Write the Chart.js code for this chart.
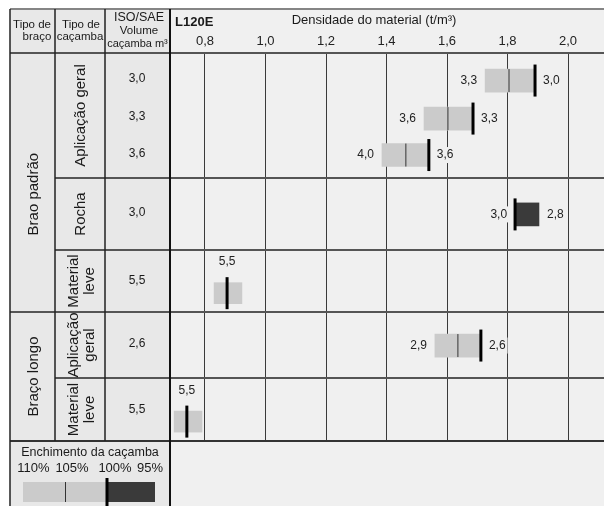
<!DOCTYPE html>
<html>
<head>
<meta charset="utf-8">
<script src="https://cdn.jsdelivr.net/npm/chart.js@4.4.0/dist/chart.umd.min.js"></script>
<style>
  html, body { margin: 0; padding: 0; background: #fff; }
  canvas { display: block; }
</style>
</head>
<body>
<canvas id="chart" width="604" height="506"></canvas>
<script>
const FONT = '"Liberation Sans", Arial, Helvetica, sans-serif';

// linhas da tabela, de cima para baixo
const rowKind = ['ag', 'ag', 'ag', 'rocha', 'leve', 'ag', 'leve'];
const volumes = ['3,0', '3,3', '3,6', '3,0', '5,5', '2,6', '5,5'];
const rowPos = [0.71, 1.69, 2.63, 4.16, 6.19, 7.54, 9.5];

// densidade (t/m3)
const fillLow  = [1.726, 1.524, 1.385, null, 0.830, 1.560, 0.698];
const fillHigh = [1.891, 1.686, 1.540, null, 0.922, 1.712, 0.790];
const darkLow  = [null, null, null, 1.825, null, null, null];
const darkHigh = [null, null, null, 1.904, null, null, null];
const mark105  = [1.805, 1.603, 1.464, null, null, 1.636, null];
const mark100  = [1.891, 1.686, 1.540, 1.825, 0.873, 1.712, 0.740];

const leftLabels  = ['3,3', '3,6', '4,0', '3,0', null, '2,9', null];
const rightLabels = ['3,0', '3,3', '3,6', '2,8', null, '2,6', null];
const topLabels   = [null, null, null, null, '5,5', null, '5,5'];

const xTicks = [0.8, 1.0, 1.2, 1.4, 1.6, 1.8, 2.0];
const legendPct = ['110%', '105%', '100%', '95%'];

// células das colunas da esquerda (em unidades do eixo y)
const armCells = [
  { from: 0, to: 6.675, lines: ['Brao padrão'], shift: 0.3 },
  { from: 6.675, to: 10, lines: ['Braço longo'], shift: 0 }
];
const bucketCells = [
  { from: 0, to: 3.222, lines: ['Aplicação geral'] },
  { from: 3.222, to: 5.077, lines: ['Rocha'] },
  { from: 5.077, to: 6.675, lines: ['Material', 'leve'] },
  { from: 6.675, to: 8.376, lines: ['Aplicação', 'geral'] },
  { from: 8.376, to: 10, lines: ['Material', 'leve'] }
];

const BG = '#f0f0f0';
const LIGHT = '#cbcbcb';
const DARK = '#3a3a3a';

function barData(low, high, kinds) {
  const out = [];
  rowPos.forEach((p, i) => {
    if (low[i] != null && kinds.includes(rowKind[i])) out.push({ x: [low[i], high[i]], y: p });
  });
  return out;
}
function pointData(vals) {
  const out = [];
  rowPos.forEach((p, i) => { if (vals[i] != null) out.push({ x: vals[i], y: p }); });
  return out;
}

function text(ctx, s, x, y, size, opts = {}) {
  ctx.font = `${opts.bold ? 'bold ' : ''}${size}px ${FONT}`;
  ctx.textAlign = opts.align || 'center';
  ctx.textBaseline = 'middle';
  ctx.fillStyle = '#1a1a1a';
  if (opts.rot) {
    ctx.save();
    ctx.translate(x, y);
    ctx.rotate(-Math.PI / 2);
    ctx.fillText(s, 0, 0);
    ctx.restore();
  } else {
    ctx.fillText(s, x, y);
  }
}

// rótulo com fundo, para cobrir a grade
function valueLabel(ctx, s, x, y, align) {
  ctx.font = `12px ${FONT}`;
  const w = ctx.measureText(s).width;
  const left = align === 'right' ? x - w : align === 'left' ? x : x - w / 2;
  ctx.fillStyle = BG;
  ctx.fillRect(left - 2, y - 8, w + 4, 16);
  ctx.fillStyle = '#222';
  ctx.textAlign = align;
  ctx.textBaseline = 'middle';
  ctx.fillText(s, x, y);
}

const tablePlugin = {
  id: 'table',
  beforeDraw(chart) {
    const { ctx, chartArea: a } = chart;
    ctx.save();
    ctx.fillStyle = '#fff';
    ctx.fillRect(0, 0, chart.width, chart.height);
    ctx.fillStyle = BG;
    ctx.fillRect(10, 9, chart.width - 10, chart.height - 9);
    ctx.fillStyle = '#e8e8e8';
    ctx.fillRect(10, 9, a.left - 10, chart.height - 9);
    ctx.restore();
  },
  afterDatasetsDraw(chart) {
    const { ctx, scales: { x, y } } = chart;
    ctx.save();
    rowPos.forEach((p, i) => {
      const py = y.getPixelForValue(p);
      if (leftLabels[i]) {
        const v = fillLow[i] != null ? fillLow[i] : mark100[i];
        valueLabel(ctx, leftLabels[i], x.getPixelForValue(v) - 8, py, 'right');
      }
      if (rightLabels[i]) {
        const v = darkHigh[i] != null ? darkHigh[i] : mark100[i];
        valueLabel(ctx, rightLabels[i], x.getPixelForValue(v) + 8, py, 'left');
      }
      if (topLabels[i]) {
        valueLabel(ctx, topLabels[i], x.getPixelForValue(mark100[i]), py - 31, 'center');
      }
    });
    ctx.restore();
  },
  afterDraw(chart) {
    const { ctx, chartArea: a, scales: { y } } = chart;
    const W = chart.width, H = chart.height;
    const L = 10, T = 9, c1 = 55, c2 = 105, c3 = a.left;
    ctx.save();
    const line = (x1, y1, x2, y2, color, w) => {
      ctx.beginPath();
      ctx.strokeStyle = color;
      ctx.lineWidth = w;
      ctx.moveTo(x1, y1);
      ctx.lineTo(x2, y2);
      ctx.stroke();
    };

    // linhas horizontais
    line(L, T, W, T, '#858585', 2);
    line(L, a.top, W, a.top, '#555', 2);
    bucketCells.slice(0, -1).forEach(c => {
      const py = y.getPixelForValue(c.to);
      const full = armCells.some(r => r.to === c.to);
      line(full ? L : c1, py, W, py, '#555', 2);
    });
    line(L, a.bottom, W, a.bottom, '#333', 2);

    // linhas verticais
    line(L, T, L, H, '#222', 1.5);
    line(c1, T, c1, a.bottom, '#222', 1.5);
    line(c2, T, c2, a.bottom, '#222', 1.5);
    line(c3, T, c3, H, '#111', 2);

    // cabeçalho
    text(ctx, 'Tipo de', 32, 25, 11.5);
    text(ctx, 'braço', 37, 37, 11.5);
    text(ctx, 'Tipo de', 81, 25, 11.5);
    text(ctx, 'caçamba', 80, 37, 11.5);
    text(ctx, 'ISO/SAE', 139, 18, 12.5);
    text(ctx, 'Volume', 139, 31, 11.5);
    text(ctx, 'caçamba m³', 137.5, 44, 11);
    text(ctx, 'L120E', 175, 22, 13, { bold: true, align: 'left' });
    text(ctx, 'Densidade do material (t/m³)', 374, 20, 13);

    // colunas da esquerda
    armCells.forEach(c => {
      const py = y.getPixelForValue((c.from + c.to) / 2 + c.shift);
      text(ctx, c.lines[0], 34, py, 15, { rot: true });
    });
    bucketCells.forEach(c => {
      const py = y.getPixelForValue((c.from + c.to) / 2);
      if (c.lines.length === 1) {
        text(ctx, c.lines[0], 81, py, 15, { rot: true });
      } else {
        text(ctx, c.lines[0], 74, py, 15, { rot: true });
        text(ctx, c.lines[1], 90, py, 15, { rot: true });
      }
    });
    volumes.forEach((v, i) => {
      let p = rowPos[i] - 0.04;
      if (rowKind[i] === 'leve') {
        const cell = bucketCells.find(c => c.from < rowPos[i] && c.to > rowPos[i]);
        p = (cell.from + cell.to) / 2;
      }
      text(ctx, v, 137, y.getPixelForValue(p), 12);
    });

    // legenda: enchimento da caçamba
    const ly = a.bottom;
    text(ctx, 'Enchimento da caçamba', 90, ly + 12, 12.5);
    [33.5, 72, 115, 150].forEach((px, i) => text(ctx, legendPct[i], px, ly + 27, 13));
    ctx.fillStyle = LIGHT;
    ctx.fillRect(23, ly + 41, 84, 20);
    ctx.fillStyle = DARK;
    ctx.fillRect(107, ly + 41, 48, 20);
    line(65.5, ly + 41, 65.5, ly + 61, '#333', 1);
    line(107, ly + 37, 107, H, '#000', 3);
    ctx.restore();
  }
};

new Chart(document.getElementById('chart'), {
  type: 'bar',
  data: {
    datasets: [
      {
        type: 'bar', indexAxis: 'y', grouped: false, order: 2,
        data: barData(fillLow, fillHigh, ['ag']),
        backgroundColor: LIGHT, borderWidth: 0, barThickness: 23
      },
      {
        type: 'bar', indexAxis: 'y', grouped: false, order: 2,
        data: barData(fillLow, fillHigh, ['leve']),
        backgroundColor: LIGHT, borderWidth: 0, barThickness: 21
      },
      {
        type: 'bar', indexAxis: 'y', grouped: false, order: 2,
        data: barData(darkLow, darkHigh, ['rocha']),
        backgroundColor: DARK, borderWidth: 0, barThickness: 23
      },
      {
        type: 'scatter', data: pointData(mark105), order: 1,
        pointStyle: 'line', rotation: 90, pointRadius: 11.5,
        borderColor: '#333', borderWidth: 1
      },
      {
        type: 'scatter', data: pointData(mark100), order: 0,
        pointStyle: 'line', rotation: 90, pointRadius: 16,
        borderColor: '#000', borderWidth: 3
      }
    ]
  },
  options: {
    responsive: false,
    animation: false,
    events: [],
    layout: { autoPadding: false, padding: { left: 170, right: 0, top: 9, bottom: 65 } },
    plugins: { legend: { display: false }, tooltip: { enabled: false } },
    scales: {
      x: {
        type: 'linear',
        position: 'top',
        offset: false,
        min: 0.6843,
        max: 2.119,
        afterBuildTicks: s => { s.ticks = xTicks.map(v => ({ value: v })); },
        afterFit: s => { s.height = 44; },
        ticks: {
          padding: 4,
          color: '#222',
          font: { family: FONT, size: 13 },
          maxRotation: 0,
          autoSkip: false,
          callback: v => Number(v).toFixed(1).replace('.', ',')
        },
        grid: { color: '#3a3a3a', lineWidth: 1, drawTicks: false, offset: false },
        border: { display: false }
      },
      y: {
        type: 'linear',
        offset: false,
        min: 0,
        max: 10,
        reverse: true,
        display: false,
        grid: { offset: false }
      }
    }
  },
  plugins: [tablePlugin]
});
</script>
</body>
</html>
